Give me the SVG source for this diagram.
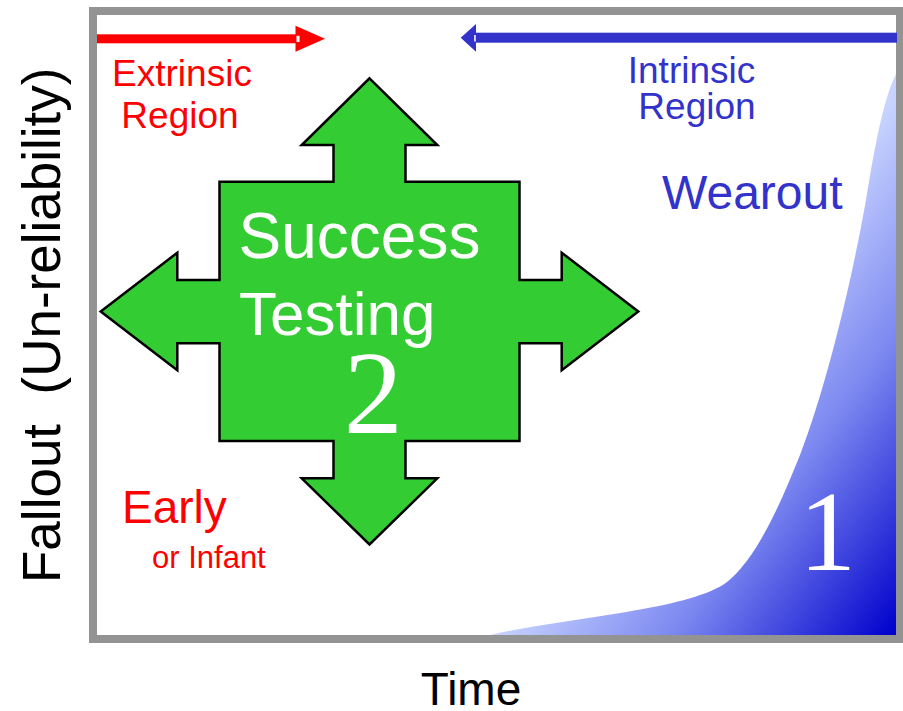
<svg xmlns="http://www.w3.org/2000/svg" width="903" height="711" viewBox="0 0 903 711">
  <style>
    .sans { font-family: "Liberation Sans", Arial, sans-serif; }
    .serif { font-family: "Liberation Serif", "Times New Roman", serif; }
    .red { fill: #FF0000; }
    .blue { fill: #3333CC; }
    .white { fill: #FFFFFF; }
    .black { fill: #000000; }
  </style>
  <defs>
    <linearGradient id="wearFill" gradientUnits="userSpaceOnUse" x1="692" y1="367" x2="950" y2="560">
      <stop offset="0" stop-color="#C8D4FF"/>
      <stop offset="0.45" stop-color="#7C88F0"/>
      <stop offset="1" stop-color="#0000CC"/>
    </linearGradient>
  </defs>

  <rect x="0" y="0" width="903" height="711" fill="#FFFFFF"/>

  <!-- wear-out failure curve -->
  <g id="wearout-curve">
    <path d="M490,635 C570,617 690,610 727,582 C755,560 778,510 800,455 C825,390 850,290 866,200 C876,140 884,95 899,68 L899,636 Z" fill="url(#wearFill)"/>
  </g>

  <!-- chart frame -->
  <rect id="frame" x="93" y="11" width="807" height="628" fill="none" stroke="#939393" stroke-width="8"/>

  <!-- region arrows -->
  <g id="connectors">
    <g id="extrinsic-arrow">
      <rect x="97" y="34.3" width="200" height="9" fill="#FF0000"/>
      <polygon points="295.5,25.7 325,38.8 295.5,51.7" fill="#FF0000"/>
      <rect x="296.5" y="35.8" width="3" height="6.2" fill="#FFFFFF"/>
    </g>
    <g id="intrinsic-arrow">
      <rect x="475" y="32.7" width="422" height="10" fill="#3333CC"/>
      <polygon points="476,24 460.7,37.7 476,51.7" fill="#3333CC"/>
      <rect x="474.2" y="35" width="1.5" height="6.5" fill="#FFFFFF"/>
    </g>
  </g>

  <!-- region labels -->
  <g id="extrinsic-label" class="sans red" font-size="37" text-anchor="middle">
    <text x="182" y="86">Extrinsic</text>
    <text x="180" y="128">Region</text>
  </g>
  <g id="intrinsic-label" class="sans blue" font-size="37" text-anchor="middle">
    <text x="691.5" y="83">Intrinsic</text>
    <text x="697" y="119">Region</text>
  </g>

  <g id="wearout-label">
    <text class="sans blue" x="662" y="209" font-size="48">Wearout</text>
    <text class="serif white" x="827.5" y="570" font-size="114" text-anchor="middle">1</text>
  </g>

  <g id="early-label" class="sans red">
    <text x="122" y="523" font-size="46">Early</text>
    <text x="152" y="568" font-size="31">or Infant</text>
  </g>

  <!-- success testing four-way arrow -->
  <g id="success-testing">
    <polygon fill="#33CC33" stroke="#000000" stroke-width="2.5" stroke-linejoin="miter"
      points="369.5,78.3 437.3,145 405.5,145 405.5,181.7 519.5,181.7 519.5,280 561.7,280 561.7,252.7 638.3,311.5 561.7,370.3 561.7,343.3 519.5,343.3 519.5,441 405.5,441 405.5,478.3 437.3,478.3 369.5,544.5 301.7,478.3 333.5,478.3 333.5,441 219.5,441 219.5,343.3 177.3,343.3 177.3,370.3 100.7,311.5 177.3,252.7 177.3,280 219.5,280 219.5,181.7 333.5,181.7 333.5,145 301.7,145"/>
    <text class="sans white" x="238.5" y="258" font-size="64">Success</text>
    <text class="sans white" x="239" y="335" font-size="62">Testing</text>
    <text class="serif white" x="373.3" y="433" font-size="118" text-anchor="middle">2</text>
  </g>

  <!-- axis titles -->
  <g id="axis-titles" class="sans black">
    <text x="471" y="705" font-size="46" text-anchor="middle">Time</text>
    <text transform="translate(59.5,583) rotate(-90)" font-size="53" xml:space="preserve">Fallout  (Un-reliability)</text>
  </g>
</svg>
